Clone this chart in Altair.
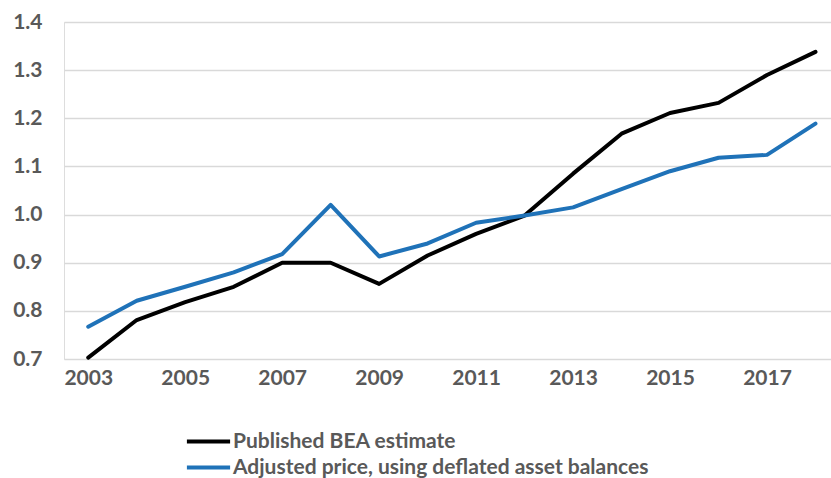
import altair as alt
import pandas as pd

years = list(range(2003, 2019))
bea = [0.703, 0.781, 0.818, 0.850, 0.900, 0.900, 0.856, 0.915, 0.960, 0.998,
       1.085, 1.168, 1.211, 1.232, 1.290, 1.338]
adjusted = [0.767, 0.821, 0.850, 0.880, 0.918, 1.020, 0.913, 0.940, 0.983, 0.998,
            1.015, 1.053, 1.090, 1.118, 1.124, 1.189]
series_names = ["Published BEA estimate", "Adjusted price, using deflated asset balances"]
x_labels = [2003, 2005, 2007, 2009, 2011, 2013, 2015, 2017]
y_ticks = [0.7, 0.8, 0.9, 1.0, 1.1, 1.2, 1.3, 1.4]

rows = []
for y, v in zip(years, bea):
    rows.append({"year": y, "value": v, "series": series_names[0]})
for y, v in zip(years, adjusted):
    rows.append({"year": y, "value": v, "series": series_names[1]})
df = pd.DataFrame(rows)

FONT = "Lato"
GREY = "#595959"

chart = alt.Chart(df).mark_line(strokeWidth=4, strokeCap="round", strokeJoin="round").encode(
    x=alt.X("year:Q",
            scale=alt.Scale(domain=[2002.5, 2018.32], nice=False, zero=False),
            axis=alt.Axis(values=x_labels, format="d", title=None, grid=False,
                          domain=False, ticks=False, labelFontSize=21,
                          labelFont=FONT, labelFontWeight="bold", labelColor=GREY,
                          labelPadding=8, labelFlush=False)),
    y=alt.Y("value:Q",
            scale=alt.Scale(domain=[0.7, 1.4], nice=False, zero=False),
            axis=alt.Axis(values=y_ticks, format=".1f", title=None, grid=True,
                          gridColor="#D9D9D9", gridWidth=1.5, domain=False, ticks=False,
                          labelFontSize=21, labelFont=FONT, labelFontWeight="bold",
                          labelColor=GREY, labelPadding=22)),
    color=alt.Color("series:N",
                    scale=alt.Scale(domain=series_names, range=["#000000", "#1F72B8"]),
                    legend=alt.Legend(title=None, orient="none", legendX=129, legendY=404,
                                      symbolType="M-1.6,0H1.6", symbolSize=729,
                                      symbolStrokeWidth=4, labelFontSize=21,
                                      labelFont=FONT, labelFontWeight="bold",
                                      labelColor=GREY, rowPadding=0, labelOffset=9,
                                      labelLimit=600)),
    order=alt.Order("year:Q"),
).properties(
    width=767, height=337,
    autosize=alt.AutoSizeParams(type="none"),
    padding={"left": 64, "top": 22, "right": 0, "bottom": 119},
).configure_view(stroke=None).configure(background="white")

chart.save("out.html", embed_options={"renderer": "svg", "actions": False})
